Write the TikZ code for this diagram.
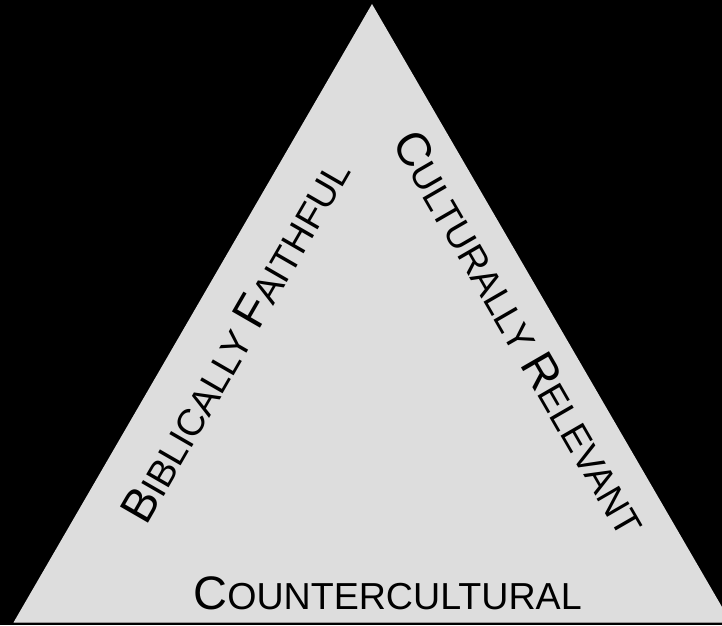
\documentclass[tikz,border=0pt]{standalone}
\usepackage{fontspec}
\setmainfont{Liberation Sans}
\definecolor{triFill}{RGB}{221,221,221}
\definecolor{baseLine}{RGB}{150,150,150}
% fake small caps: first letter large, the rest smaller
\newcommand{\smcap}[2]{{\fontsize{47}{47}\selectfont #1}{\fontsize{37.6}{37.6}\selectfont #2}}

\begin{document}
\begin{tikzpicture}[x=1pt, y=1pt, label/.style={inner sep=0pt, anchor=base}]
      % --- frame and background ---
      \useasboundingbox (0,0) rectangle (722,625);
      \fill[black] (0,0) rectangle (722,625);
      \clip (0,0) rectangle (722,625);
      % --- triangle ---
      \coordinate (top) at (372,621);
      \coordinate (bl) at (13.5,2.5);
      \coordinate (br) at (731,2.5);
      \fill[triFill] (top) -- (bl) -- (br) -- cycle;
      \draw[baseLine, line width=1pt] (bl) -- (br);
      % --- side labels ---
      \node[label, rotate=60] (bf) at (249,276) {\smcap{B}{IBLICALLY }\smcap{F}{AITHFUL}};
      \node[label, rotate=-60] (cr) at (506,284) {\smcap{C}{ULTURALLY }\smcap{R}{ELEVANT}};
      \node[label] (cc) at (387.5,15.5) {\smcap{C}{OUNTERCULTURAL}};
\end{tikzpicture}
\end{document}
